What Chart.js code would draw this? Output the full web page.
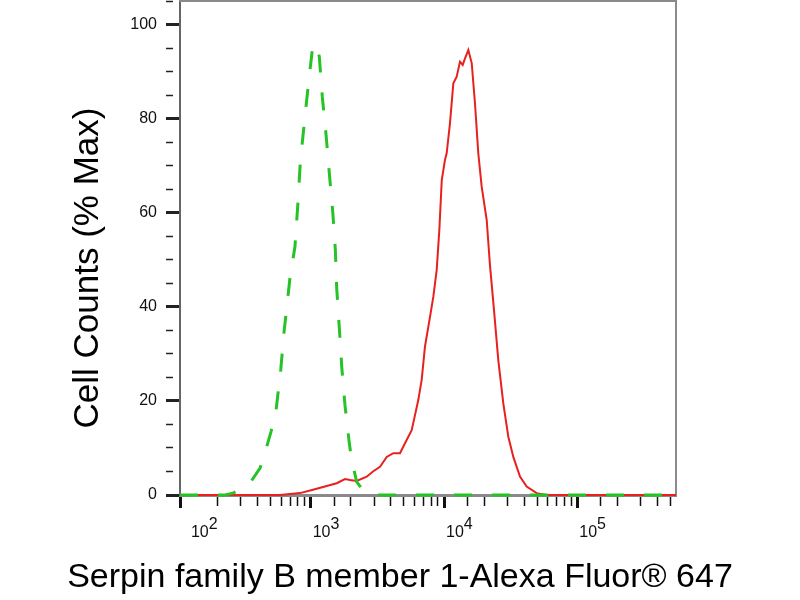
<!DOCTYPE html>
<html><head><meta charset="utf-8">
<script src="https://cdn.jsdelivr.net/npm/chart.js@4.4.1/dist/chart.umd.min.js"></script>
<style>html,body{margin:0;padding:0;background:#fff;}canvas{display:block;}</style>
</head><body>
<canvas id="c" width="800" height="600"></canvas>
<script>
// Isotype control (green dashed)
const greenX = [104.6, 228, 261, 305, 355, 417, 468, 504, 550, 596, 631, 679, 700, 762, 803, 836, 895, 959, 1035, 1087, 1160, 1222, 1304, 1380, 1463, 1531, 1567, 1640, 1709, 1808, 1949, 2031, 2213, 2425, 2630, 3034, 550000];
const greenY = [0, 0, 0.4, 1.3, 2.8, 5.7, 10.3, 13.5, 18.1, 26.6, 34.7, 42.9, 46.4, 52.8, 62.4, 70.9, 79.1, 87.2, 95.4, 96.0, 93.3, 84.7, 76.6, 68.4, 60.3, 52.1, 44.0, 35.5, 27.3, 19.1, 11.0, 7.4, 2.8, 1.3, 0.4, 0, 0];
// Stained sample (red)
const redX = [104.6, 589, 831, 1040, 1318, 1567, 1808, 1972, 2213, 2630, 2931, 3311, 3717, 4166, 4677, 5098, 5723, 6058, 6414, 6800, 7200, 7852, 8318, 8816, 9226, 9620, 10170, 10470, 11090, 11750, 12450, 13180, 13810, 14380, 15220, 16140, 17080, 18080, 19170, 20910, 22120, 23710, 25540, 27850, 30370, 33110, 37150, 41690, 49550, 58880, 550000];
const redY = [0, 0, 0.4, 1.1, 1.9, 2.5, 3.4, 3.2, 3.0, 3.9, 5.0, 6.0, 8.1, 8.9, 8.9, 11.0, 13.8, 17.0, 20.2, 24.5, 31.6, 37.9, 42.2, 47.9, 56.4, 67.0, 71.3, 72.7, 79.1, 87.6, 89.0, 92.2, 91.5, 92.9, 94.7, 91.9, 83.3, 72.7, 65.6, 58.5, 48.9, 39.4, 28.7, 19.5, 12.4, 8.1, 3.9, 1.8, 0.4, 0, 0];
// Tick labels
const yTickLabels = ['0', '20', '40', '60', '80', '100'];
const xDecades = [100, 1000, 10000, 100000];
const xExponents = ['2', '3', '4', '5'];
const xTitle = 'Serpin family B member 1-Alexa Fluor\u00AE 647';
const yTitle = 'Cell Counts (% Max)';
const xRange = [104.6, 550000];
const yRange = [0, 105.1];

const FONT = '"Liberation Sans", Arial, Helvetica, sans-serif';

function isDecade(v) { const l = Math.log10(v); return Math.abs(l - Math.round(l)) < 1e-9; }

const yTitlePlugin = {
  id: 'yTitle',
  afterDraw(chart) {
    const ctx = chart.ctx;
    ctx.save();
    ctx.translate(88, chart.chartArea.top + 267);
    ctx.rotate(-Math.PI / 2);
    ctx.font = '35px ' + FONT;
    ctx.fillStyle = '#000';
    ctx.textAlign = 'center';
    ctx.textBaseline = 'middle';
    ctx.fillText(yTitle, 0, 0);
    ctx.restore();
  }
};

new Chart(document.getElementById('c'), {
  type: 'line',
  data: {
    datasets: [
      {
        label: 'Isotype',
        data: greenX.map((x, i) => ({x, y: greenY[i]})),
        borderColor: '#26c326',
        borderWidth: 3,
        borderDash: [18, 20],
        pointRadius: 0,
        tension: 0,
        fill: false,
        clip: false
      },
      {
        label: 'Sample',
        data: redX.map((x, i) => ({x, y: redY[i]})),
        borderColor: '#e8201e',
        borderWidth: 2,
        pointRadius: 0,
        tension: 0,
        fill: false,
        clip: false
      }
    ]
  },
  options: {
    responsive: false,
    animation: false,
    layout: { padding: { top: 1, left: 0, right: 0, bottom: 0 } },
    plugins: {
      legend: { display: false },
      tooltip: { enabled: false },
      title: {
        display: true,
        position: 'bottom',
        text: xTitle,
        color: '#000',
        font: { family: FONT, size: 34, weight: 'normal' },
        padding: { top: 4, bottom: 1.5 }
      }
    },
    scales: {
      x: {
        type: 'logarithmic',
        position: 'bottom',
        min: xRange[0],
        max: xRange[1],
        border: { display: true, color: '#8a8a8a', width: 3 },
        grid: {
          display: true,
          drawOnChartArea: false,
          drawTicks: true,
          tickLength: 13,
          tickWidth: (c) => (c.index === 0 || isDecade(c.tick.value)) ? 3 : 1.5,
          tickColor: (c) => (c.tick && c.tick.value >= xRange[1]) ? 'rgba(0,0,0,0)' : '#111',
          tickBorderDash: (c) => (c.index === 0 || isDecade(c.tick.value)) ? [] : [9, 60]
        },
        ticks: {
          autoSkip: false,
          maxRotation: 0,
          minRotation: 0,
          align: 'start',
          labelOffset: 2,
          padding: 12,
          color: '#111',
          font: { family: FONT, size: 16, lineHeight: '8.5px' },
          callback: function (value, index) {
            if (index === 0) return ['      ' + xExponents[0], '  10'];
            const k = xDecades.indexOf(Math.round(value));
            if (k > 0 && isDecade(value)) return ['    ' + xExponents[k], '10'];
            return '';
          }
        },
        afterFit: (s) => { s.height = 58.7; s.paddingLeft = 0; s.paddingRight = 0; }
      },
      y: {
        type: 'linear',
        position: 'left',
        min: yRange[0],
        max: yRange[1],
        border: { display: true, color: '#666', width: 2 },
        grid: {
          display: true,
          drawOnChartArea: false,
          drawTicks: true,
          tickLength: 14,
          tickWidth: (c) => (c.tick && c.tick.value % 20 === 0) ? 3 : 1.5,
          tickColor: '#222',
          tickBorderDash: (c) => (c.tick && c.tick.value % 20 === 0) ? [] : [7, 60]
        },
        ticks: {
          stepSize: 5,
          includeBounds: false,
          autoSkip: false,
          padding: 9,
          color: '#111',
          font: { family: FONT, size: 16 },
          callback: (v) => yTickLabels.includes(String(v)) ? String(v) : ''
        },
        afterFit: (s) => { s.width = 180; s.paddingTop = 0; s.paddingBottom = 0; }
      },
      x2: {
        type: 'linear',
        position: 'top',
        min: 0, max: 1,
        border: { display: true, color: '#8a8a8a', width: 2 },
        grid: { display: false },
        ticks: { display: false },
        afterFit: (s) => { s.height = 0; s.paddingLeft = 0; s.paddingRight = 0; }
      },
      y2: {
        type: 'linear',
        position: 'right',
        min: 0, max: 1,
        border: { display: true, color: '#8a8a8a', width: 2 },
        grid: { display: false },
        ticks: { display: false },
        afterFit: (s) => { s.width = 124; s.paddingTop = 0; s.paddingBottom = 0; }
      }
    }
  },
  plugins: [yTitlePlugin]
});
</script>
</body></html>
